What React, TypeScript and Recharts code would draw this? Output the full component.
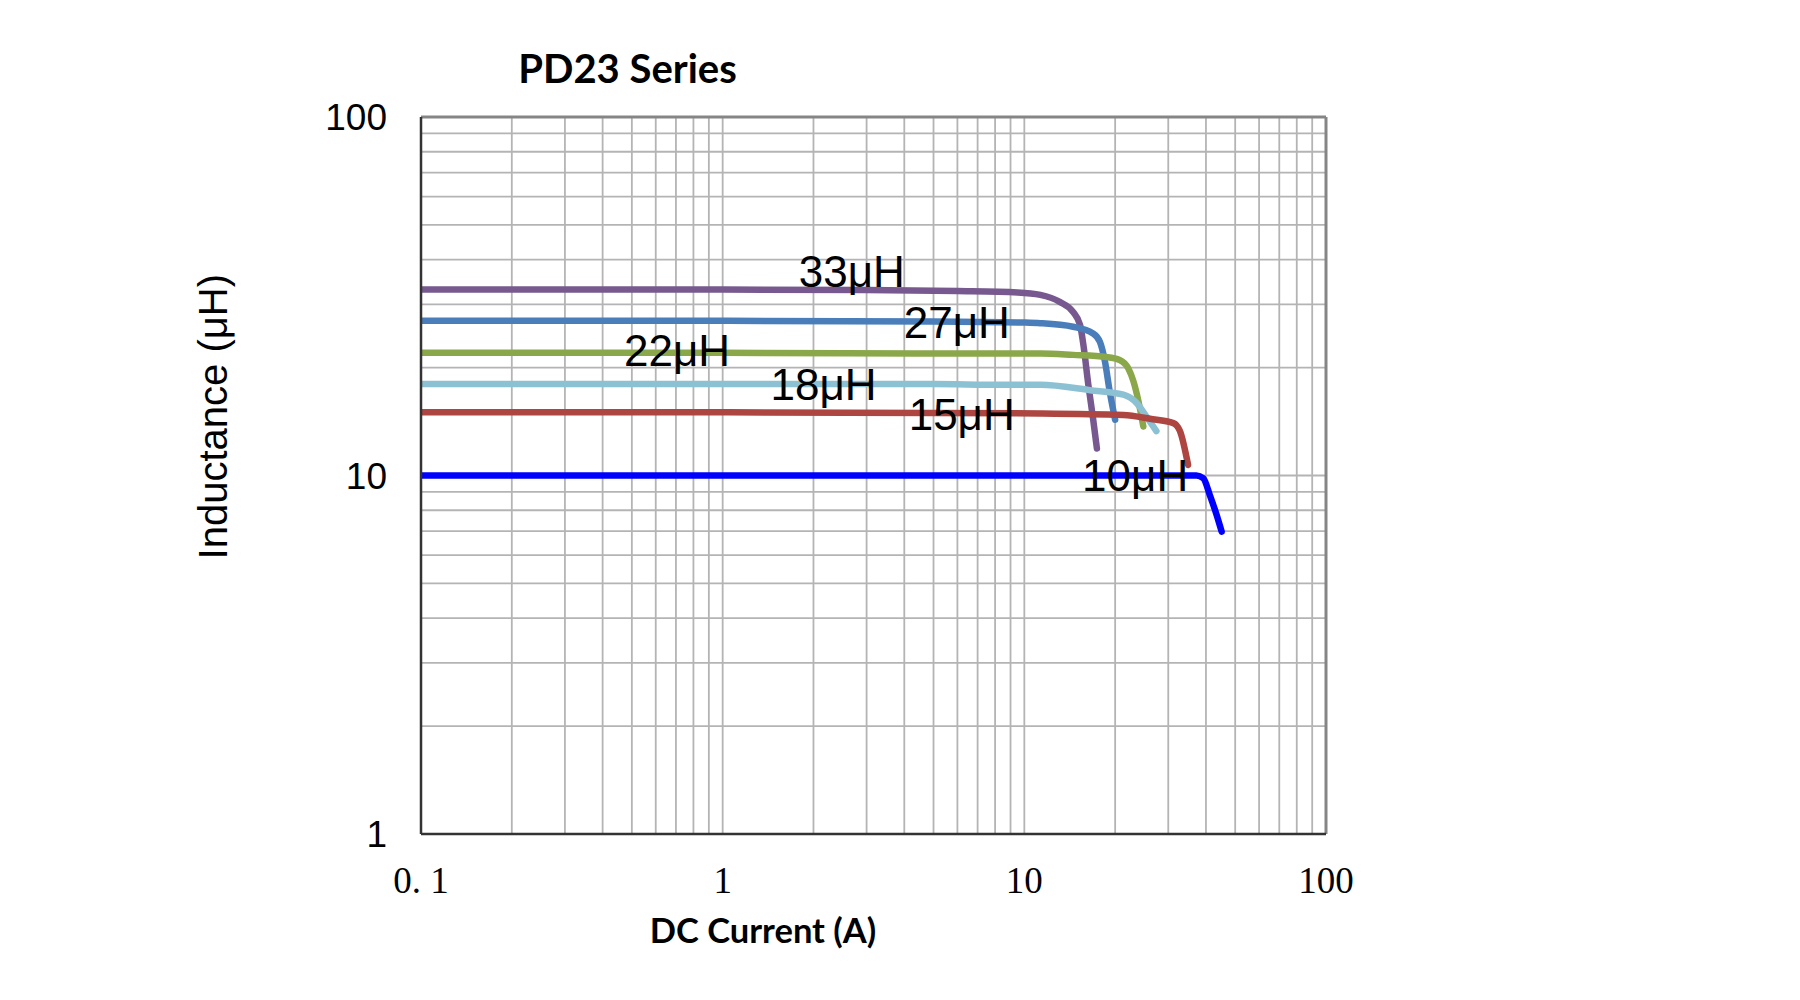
import React from "react";
import { LineChart, Line, XAxis, YAxis, CartesianGrid, ReferenceLine, ReferenceDot } from "recharts";

// ---- tick values (log grid) ----
const xTicks = [0.1, 0.2, 0.3, 0.4, 0.5, 0.6, 0.7, 0.8, 0.9, 1, 2, 3, 4, 5, 6, 7, 8, 9, 10, 20, 30, 40, 50, 60, 70, 80, 90, 100];
const yTicks = [1, 2, 3, 4, 5, 6, 7, 8, 9, 10, 20, 30, 40, 50, 60, 70, 80, 90, 100];
const xTickLabels: Record<string, string> = { "0.1": "0. 1", "1": "1", "10": "10", "100": "100" };
const yTickLabels: Record<string, string> = { "1": "1", "10": "10", "100": "100" };

// ---- series (DC current A, inductance uH) ----
const current33 = [0.1, 1, 3, 6, 9.5, 11.3, 13.1, 14.5, 15.3, 15.7, 16.3, 16.9, 17.4];
const induct33 = [33, 33, 32.9, 32.7, 32.4, 31.9, 30.5, 28.6, 26.3, 23.1, 17.9, 14.4, 11.9];

const current27 = [0.1, 1, 5, 10, 11.3, 14.5, 16.9, 17.8, 18.5, 19.2, 20.0];
const induct27 = [27, 27, 26.9, 26.7, 26.6, 26.0, 24.9, 23.6, 20.8, 17.1, 14.3];

const current22 = [0.1, 1, 5, 11.3, 14.5, 18.7, 20.7, 22.1, 23.0, 23.9, 24.8];
const induct22 = [22, 22, 21.9, 21.9, 21.7, 21.4, 21.0, 19.9, 18.3, 16.1, 13.7];

const current18 = [0.1, 1, 5, 8.3, 11.3, 16.5, 21.3, 23.6, 25.4, 27.4];
const induct18 = [18, 18, 18, 17.9, 17.9, 17.3, 16.8, 15.9, 14.6, 13.3];

const current15 = [0.1, 1, 5, 11.3, 21.3, 26.1, 31.2, 32.8, 34.9];
const induct15 = [15, 15, 14.95, 14.9, 14.75, 14.4, 14.0, 13.3, 10.7];

const current10 = [0.1, 1, 10, 30, 37.2, 39.2, 41.2, 43.4, 45.1];
const induct10 = [10, 10, 10, 10, 10, 9.82, 8.82, 7.76, 6.97];

// ---- in-plot labels ----
const labelTexts = ["33μH", "27μH", "22μH", "18μH", "15μH", "10μH"];
const labelX = [2.68, 5.97, 0.706, 2.16, 6.2, 23.3];
const labelY = [37.2, 26.8, 22.4, 17.9, 14.8, 10.0];

const toPoints = (xs: number[], ys: number[]) => xs.map((x, i) => ({ x, y: ys[i] }));

const series = [
  { name: "33μH", data: toPoints(current33, induct33), color: "#77598f" },
  { name: "27μH", data: toPoints(current27, induct27), color: "#4a7ebb" },
  { name: "22μH", data: toPoints(current22, induct22), color: "#8aa84a" },
  { name: "18μH", data: toPoints(current18, induct18), color: "#8cc1d3" },
  { name: "15μH", data: toPoints(current15, induct15), color: "#ad4541" },
  { name: "10μH", data: toPoints(current10, induct10), color: "#0000ff" },
];

const W = 1784;
const H = 984;

const XTick = (props: any) => {
  const { x, y, payload } = props;
  const label = xTickLabels[String(payload.value)];
  if (!label) return null;
  return (
    <text x={x} y={y + 59} textAnchor="middle" fontFamily="'Liberation Serif', 'DejaVu Serif', serif" fontSize={37} fill="#000">
      {label}
    </text>
  );
};

const YTick = (props: any) => {
  const { x, y, payload } = props;
  const label = yTickLabels[String(payload.value)];
  if (!label) return null;
  return (
    <text x={x - 34} y={y + 13} textAnchor="end" fontFamily="'Liberation Sans', Arial, sans-serif" fontSize={37} fill="#000">
      {label}
    </text>
  );
};

export default function App() {
  return (
    <div style={{ position: "relative", width: W, height: H, background: "#fff" }}>
      <LineChart width={W} height={H} margin={{ top: 109, left: 333, right: 466, bottom: 98 }}>
        <CartesianGrid stroke="#b4b4b4" strokeWidth={1.8} />
        <XAxis
          dataKey="x"
          type="number"
          scale="log"
          domain={[0.1, 100]}
          ticks={xTicks}
          interval={0}
          allowDataOverflow
          tick={<XTick />}
          tickLine={false}
          tickSize={0}
          tickMargin={0}
          height={60}
          axisLine={{ stroke: "#333", strokeWidth: 2.5 }}
        />
        <YAxis
          dataKey="y"
          type="number"
          scale="log"
          domain={[1, 100]}
          ticks={yTicks}
          interval={0}
          allowDataOverflow
          tick={<YTick />}
          tickLine={false}
          tickSize={0}
          tickMargin={0}
          width={80}
          axisLine={{ stroke: "#333", strokeWidth: 2.5 }}
        />
        <ReferenceLine y={100} stroke="#858585" strokeWidth={3} />
        <ReferenceLine x={100} stroke="#858585" strokeWidth={3} />
        {series.map((s) => (
          <Line
            key={s.name}
            data={s.data}
            dataKey="y"
            type="monotone"
            stroke={s.color}
            strokeWidth={6.5}
            strokeLinecap="round"
            strokeLinejoin="round"
            dot={false}
            activeDot={false}
            isAnimationActive={false}
          />
        ))}
        {labelTexts.map((t, i) => (
          <ReferenceDot
            key={t}
            x={labelX[i]}
            y={labelY[i]}
            r={0}
            fill="none"
            stroke="none"
            label={{
              value: t,
              position: "center",
              fontSize: 44,
              fill: "#000",
              fontFamily: "'Liberation Sans', Arial, sans-serif",
            }}
          />
        ))}
      </LineChart>
      <svg width={W} height={H} style={{ position: "absolute", left: 0, top: 0, pointerEvents: "none" }}>
        <text x={619.5} y={75.3} textAnchor="middle" fontFamily="Lato, 'Open Sans', sans-serif" fontWeight="bold" fontSize={40} fill="#000">
          PD23 Series
        </text>
        <text x={755} y={935} textAnchor="middle" fontFamily="Lato, 'Open Sans', sans-serif" fontWeight="bold" fontSize={34.5} fill="#000">
          DC Current (A)
        </text>
        <text
          x={219.3}
          y={408.7}
          transform="rotate(-90 219.3 408.7)"
          textAnchor="middle"
          fontFamily="'Liberation Sans', Arial, sans-serif"
          fontSize={40}
          fill="#000"
        >
          Inductance (μH)
        </text>
      </svg>
    </div>
  );
}
